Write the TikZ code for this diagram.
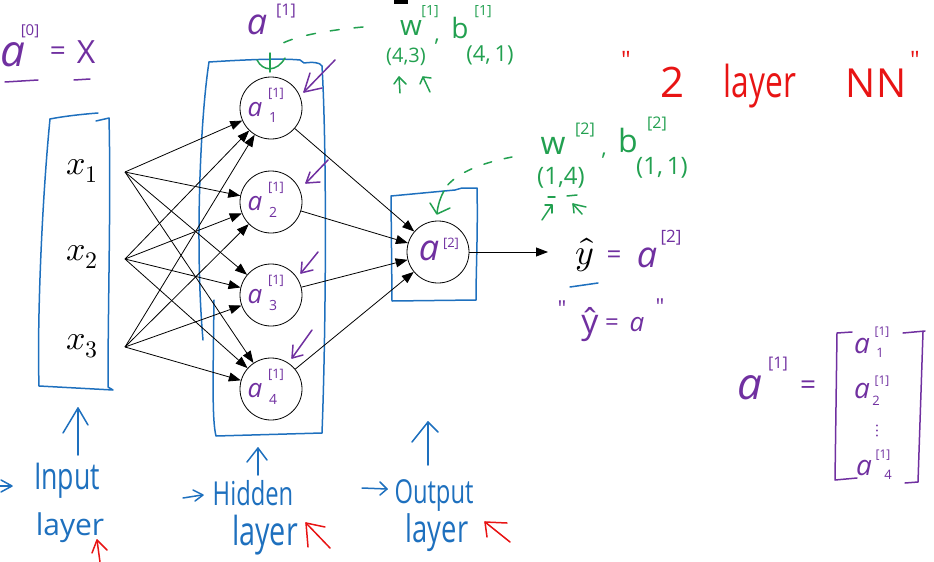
\documentclass[tikz,border=0pt]{standalone}
\usepackage{amsmath}
\usepackage{unicode-math}
\setsansfont{Open Sans}
\newfontfamily\hand{Open Sans}
\newfontfamily\handc{Open Sans}[FakeStretch=0.72]
\usetikzlibrary{arrows.meta}
\definecolor{pblue}{RGB}{30,112,190}
\definecolor{ppur}{RGB}{112,48,160}
\definecolor{pgreen}{RGB}{34,160,80}
\definecolor{pred}{RGB}{232,20,20}
\tikzset{
  pen/.style={line width=1.5pt, line cap=round, line join=round},
  conn/.style={line width=0.8pt, -{Triangle[length=12pt,width=9pt]}},
  neuron/.style={circle, draw, line width=0.8pt, minimum size=62pt, inner sep=0pt},
  txt/.style={inner sep=0pt, outer sep=0pt},
  fs/.style={font=\hand\fontsize{#1}{#1}\selectfont},
  fi/.style={font=\hand\itshape\fontsize{#1}{#1}\selectfont},
  fc/.style={font=\handc\fontsize{#1}{#1}\selectfont},
  fm/.style={font=\fontsize{#1}{#1}\selectfont},
}
\begin{document}
\begin{tikzpicture}[x=1pt,y=-1pt]
\useasboundingbox (0,0) rectangle (934,562);

% ---------- boxes ----------
\draw[pen,pblue] (50,119) .. controls (65,116) and (85,114) .. (98,113);
\draw[pen,pblue] (96,121) -- (109,118) .. controls (111,200) and (108,300) .. (108,387) -- (113,390) -- (39,386) .. controls (37,320) and (42,200) .. (50,119);

\draw[pen,pblue] (209,62) .. controls (240,60) and (280,58) .. (300,60) -- (304,63) .. controls (312,62) and (320,62) .. (322,66) .. controls (327,150) and (326,330) .. (322,433) -- (216,436) .. controls (212,420) and (213,380) .. (214,300);
\draw[pen,pblue] (209,62) .. controls (200,120) and (195,250) .. (203,340);

\draw[pen,pblue] (391,196) -- (455,190) -- (462,188) -- (477,188) .. controls (478,230) and (476,270) .. (476,300) -- (392,301) -- cycle;

% ---------- neurons ----------
\node[neuron] (h1) at (271,108) {};
\node[neuron] (h2) at (271,202) {};
\node[neuron] (h3) at (271,295) {};
\node[neuron] (h4) at (271,389) {};
\node[neuron] (o) at (438,252) {};

\foreach \i/\yy in {1/108,2/202,3/295,4/389}{
  \node[txt,fi=26,text=ppur] (ha\i) at (255,\yy+2) {a};
  \node[txt,fs=13,text=ppur] (hs\i) at (276,\yy-14) {[1]};
  \node[txt,fs=14,text=ppur] (hb\i) at (273,\yy+10) {\i};
}
\node[txt,fi=36,text=ppur] (oa) at (429,251) {a};
\node[txt,fs=13,text=ppur] (os) at (451,244) {[2]};

% ---------- inputs ----------
\node[txt,fm=34] (x1) at (82,171) {$x_1$};
\node[txt,fm=34] (x2) at (82,257) {$x_2$};
\node[txt,fm=34] (x3) at (82,346) {$x_3$};
\coordinate (x1o) at (125,172);
\coordinate (x2o) at (125,259);
\coordinate (x3o) at (125,347);

\foreach \s in {x1o,x2o,x3o}{
  \foreach \t in {h1,h2,h3,h4}{
    \draw[conn] (\s) -- (\t);
  }
}
\foreach \t in {h1,h2,h3,h4}{
  \draw[conn] (\t) -- (o);
}
\coordinate (yend) at (548,252);
\draw[conn] (o) -- (yend);

% ---------- output text ----------
\node[txt,fm=36] (yh) at (585,255) {$\hat{y}$};
\draw[pen,pblue] (570,287) -- (598,283);
\node[txt,fs=26,text=ppur] (yheq) at (614,257) {=};
\node[txt,fi=36,text=ppur] (yha) at (647,258) {a};
\node[txt,fs=17,text=ppur] (yhs) at (671,238) {[2]};

\node[txt,fs=22,text=ppur] (yq1) at (562,309) {"};
\node[txt,fs=34,text=ppur] (yy) at (590,325) {ŷ};
\node[txt,fs=24,text=ppur] (yeq) at (612,325) {=};
\node[txt,fi=26,text=ppur] (ya) at (637,325) {a};
\node[txt,fs=22,text=ppur] (yq2) at (660,307) {"};

% ---------- a[0] = X ----------
\node[txt,fi=44,text=ppur] (a0) at (13,55) {a};
\node[txt,fs=15,text=ppur] (a0s) at (30,31) {[0]};
\node[txt,fs=28,text=ppur] (a0eq) at (58,54) {=};
\node[txt,fs=32,text=ppur] (a0x) at (86,52) {X};
\draw[pen,ppur] (5,82) -- (38,80);
\draw[pen,ppur] (74,80) -- (90,79);

% ---------- a[1] top ----------
\node[txt,fi=36,text=ppur] (a1t) at (257,25) {a};
\node[txt,fs=16,text=ppur] (a1ts) at (286,11) {[1]};

% purple arrows to hidden units
\draw[pen,ppur] (335,60) -- (304,92);
\draw[pen,ppur] (310,73) -- (304,92) -- (322,88);
\draw[pen,ppur] (328,160) -- (306,183);
\draw[pen,ppur] (310,172) -- (306,183) -- (320,182);
\draw[pen,ppur] (318,252) -- (301,273);
\draw[pen,ppur] (302,262) -- (301,273) -- (313,270);
\draw[pen,ppur] (312,330) -- (292,358);
\draw[pen,ppur] (293,345) -- (292,358) -- (303,355);

% ---------- green W1 b1 ----------
\fill (394,0) rectangle (408,4);
\node[txt,fs=28,text=pgreen] (w1) at (411,28) {w};
\node[txt,fs=14,text=pgreen] (w1s) at (430,12) {[1]};
\node[txt,fs=22,text=pgreen] (w1c) at (437,42) {,};
\node[txt,fs=28,text=pgreen] (b1) at (460,28) {b};
\node[txt,fs=14,text=pgreen] (b1s) at (483,12) {[1]};
\node[txt,fs=20,text=pgreen] (d1) at (406,57) {(4,3)};
\node[txt,fs=22,text=pgreen] (d2) at (490,55) {(4,\,1)};
\draw[pen,pgreen] (400,93) -- (399,77);
\draw[pen,pgreen] (394,84) -- (399,77) -- (406,84);
\draw[pen,pgreen] (430,92) -- (423,77);
\draw[pen,pgreen] (420,84) -- (423,77) -- (431,78);

\draw[pen,pgreen,dash pattern=on 9pt off 15pt] (363,27) .. controls (330,30) and (300,35) .. (283,43);
\draw[pen,pgreen] (270,53) -- (270,72);
\draw[pen,pgreen] (257,60) .. controls (263,72) and (277,72) .. (285,58);

% ---------- green W2 b2 ----------
\node[txt,fs=32,text=pgreen] (w2) at (553,146) {w};
\node[txt,fs=16,text=pgreen] (w2s) at (585,130) {[2]};
\node[txt,fs=22,text=pgreen] (w2c) at (604,156) {,};
\node[txt,fs=32,text=pgreen] (b2) at (628,140) {b};
\node[txt,fs=16,text=pgreen] (b2s) at (657,124) {[2]};
\node[txt,fs=24,text=pgreen] (d3) at (561,178) {(1,4)};
\node[txt,fs=24,text=pgreen] (d4) at (662,168) {(1,\,1)};
\draw[pen,pgreen] (548,197) -- (555,197);
\draw[pen,pgreen] (567,196) -- (577,195);
\draw[pen,pgreen] (542,220) -- (552,205);
\draw[pen,pgreen] (545,205) -- (552,205) -- (552,213);
\draw[pen,pgreen] (582,214) -- (573,204);
\draw[pen,pgreen] (574,213) -- (573,204) -- (586,207);

\draw[pen,pgreen,dash pattern=on 8pt off 13pt] (512,157) .. controls (482,163) and (458,172) .. (446,187);
\draw[pen,pgreen] (444,191) .. controls (440,198) and (438,205) .. (437,213);
\draw[pen,pgreen] (430,203) -- (437,214) -- (450,208);

% ---------- red title ----------
\node[txt,fs=24,text=pred] (q1) at (626,60) {"};
\node[inner sep=0pt,fs=42,text=pred,anchor=base] (two) at (672,97) {2};
\node[inner sep=0pt,fc=44,text=pred,anchor=base] (lay) at (760,97) {layer};
\node[inner sep=0pt,fs=40,text=pred,anchor=base] (nn) at (876,97) {NN};
\node[txt,fs=24,text=pred] (q2) at (915,60) {"};

% ---------- bottom labels ----------
\draw[pen,pblue] (78,455) -- (78,408);
\draw[pen,pblue] (63,433) -- (78,408) -- (88,425);
\draw[pen,pblue] (0,486) -- (11,486);
\draw[pen,pblue] (1,480) -- (12,486) -- (1,492);
\node[txt,fc=37,text=pblue] (inp) at (67,481) {Input};
\node[txt,fs=30,text=pblue] (inl) at (70,528) {layer};
\draw[pen,pred] (100,562) -- (97,540);
\draw[pen,pred] (92,553) -- (97,540) -- (107,550);

\draw[pen,pblue] (258,475) -- (258,448);
\draw[pen,pblue] (247,462) -- (258,448) -- (267,460);
\draw[pen,pblue] (183,498) -- (202,495);
\draw[pen,pblue] (193,490) -- (203,495) -- (195,501);
\node[txt,fc=33,text=pblue] (hid) at (253,493) {Hidden};
\node[txt,fc=40,text=pblue] (hidl) at (265,535) {layer};
\draw[pen,pred] (330,548) -- (306,523);
\draw[pen,pred] (308,547) -- (306,523) -- (325,527);

\draw[pen,pblue] (428,465) -- (428,422);
\draw[pen,pblue] (412,442) -- (428,422) -- (438,432);
\draw[pen,pblue] (362,488) -- (387,489);
\draw[pen,pblue] (380,482) -- (387,489) -- (380,495);
\node[txt,fc=33,text=pblue] (out) at (434,495) {Output};
\node[txt,fc=38,text=pblue] (outl) at (437,533) {layer};
\draw[pen,pred] (510,542) -- (485,522);
\draw[pen,pred] (487,537) -- (485,522) -- (507,523);

% ---------- matrix ----------
\node[txt,fi=44,text=ppur] (ma) at (750,388) {a};
\node[txt,fs=16,text=ppur] (mas) at (778,364) {[1]};
\node[txt,fs=28,text=ppur] (meq) at (808,388) {=};
\draw[pen,ppur] (852,332) -- (837,333) -- (835,480) -- (857,478);
\draw[pen,ppur] (903,333) -- (925,331);
\draw[pen,ppur] (923,332) -- (918,482) -- (905,483);
\node[txt,fi=28,text=ppur] (m1) at (862,346) {a};
\node[txt,fs=12,text=ppur] (m1s) at (882,332) {[1]};
\node[txt,fs=13,text=ppur] (m1b) at (880,353) {1};
\node[txt,fi=28,text=ppur] (m2) at (862,391) {a};
\node[txt,fs=12,text=ppur] (m2s) at (882,381) {[1]};
\node[txt,fs=13,text=ppur] (m2b) at (876,401) {2};
\node[txt,fm=18,text=ppur] (mv) at (877,431) {$\vdots$};
\node[txt,fi=28,text=ppur] (m4) at (864,468) {a};
\node[txt,fs=12,text=ppur] (m4s) at (883,455) {[1]};
\node[txt,fs=13,text=ppur] (m4b) at (888,475) {4};
\end{tikzpicture}
\end{document}
